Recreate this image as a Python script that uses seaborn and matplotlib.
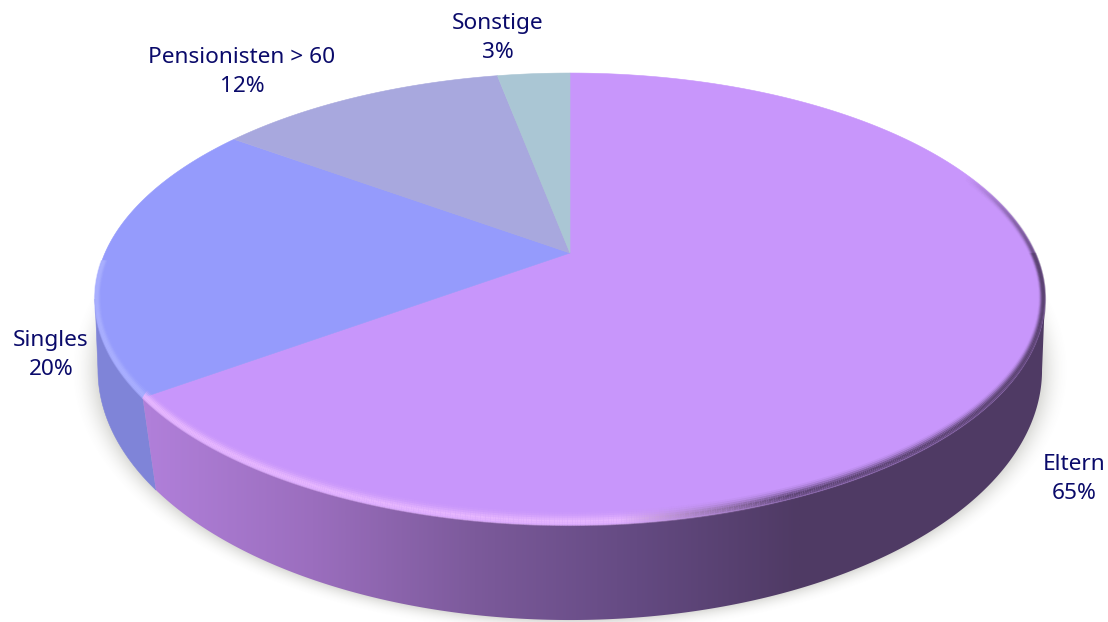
# -*- coding: utf-8 -*-
import numpy as np
import seaborn as sns
import matplotlib
matplotlib.use("Agg")
import matplotlib.pyplot as plt
from matplotlib.patches import Polygon
from matplotlib.collections import LineCollection
from matplotlib.colors import to_rgb

# data
groups = ["Eltern", "Singles", "Pensionisten > 60", "Sonstige"]
shares = [65, 20, 12, 3]
face_colors = ["#C896FB", "#959BFC", "#A8A8DE", "#AAC6D4"]
wall_shades = ["#B07FD9", "#9B6EBE", "#7C5A9B", "#644A82", "#4F3A64"]
singles_wall = "#7F84D8"
text_color = "#0A0A6A"

W, H = 1108, 622
label_xy = [(1074, 479), (51, 355), (242, 72), (498, 38)]

sns.set_theme(style="white")
plt.rcParams["font.family"] = ["Noto Sans", "DejaVu Sans"]


def project(phi, r=1.0, cy=253.0, a=465.0, b=216.6, k=0.2035, cx=570.0):
    # unit circle -> perspective view of the disc, in pixels
    x = r * np.cos(phi)
    y = r * np.sin(phi)
    w = 1 + k * y
    return cx + a * x / w, cy - b * y / w


def project_bottom(phi):
    return project(phi, cy=332.5, a=466.7, b=244.4, k=0.15)


def wall_poly(start, stop, k_top=0.2035, k_bot=0.15, left=False):
    # side wall between two rim angles (radians), top rim + bottom rim
    if left:
        top = np.linspace(np.pi + np.arcsin(k_top), stop, 120)
        bot = np.linspace(stop, np.pi + np.arcsin(k_bot), 120)
    else:
        top = np.linspace(start, -np.arcsin(k_top), 300)
        bot = np.linspace(-np.arcsin(k_bot), start, 300)
    return np.vstack([np.column_stack(project(top)), np.column_stack(project_bottom(bot))])


fig = plt.figure(figsize=(W / 100, H / 100), dpi=100)
ax = fig.add_axes([0, 0, 1, 1])

wedges, _ = ax.pie(shares, startangle=90, counterclock=False,
                   colors=sns.color_palette(face_colors), radius=1)

ax.set_aspect("auto")
ax.axis("off")

# soft ground shadow
X, Y = np.meshgrid(np.arange(W) + 0.5, np.arange(H) + 0.5)
q = np.sqrt(((X - 570) / 472) ** 2 + ((Y - 370) / 250) ** 2)
shadow = np.zeros((H, W, 4))
shadow[..., :3] = (0.45, 0.45, 0.40)
shadow[..., 3] = 0.26 * np.clip(1 - (q - 1) / 0.06, 0, 1) ** 2
ax.imshow(shadow, extent=(0, W, H, 0), aspect="auto", zorder=0)

# side wall
edge = np.radians(wedges[0].theta1)
ax.add_patch(Polygon(wall_poly(None, edge + 2 * np.pi, left=True), closed=True,
                     fc=singles_wall, ec=singles_wall, lw=0.4, zorder=1))
wall_clip = Polygon(wall_poly(edge, None), closed=True, fc="none", ec="none",
                    transform=ax.transData)
ax.add_patch(wall_clip)
wall_cmap = sns.blend_palette(wall_shades, as_cmap=True)
# gradient left to right, flat colour outside of it
grad = np.linspace(0, 1, 256).reshape(1, -1)
wall_img = ax.imshow(grad, extent=(150, 800, H, 0), cmap=wall_cmap, aspect="auto", zorder=1)
wall_img.set_clip_path(wall_clip)
light_img = ax.imshow(np.zeros((1, 2)), extent=(130, 150, H, 0), cmap=wall_cmap, vmin=0, vmax=1,
                      aspect="auto", zorder=1)
light_img.set_clip_path(wall_clip)
dark_img = ax.imshow(np.ones((1, 2)), extent=(800, W, H, 0), cmap=wall_cmap, vmin=0, vmax=1,
                     aspect="auto", zorder=1)
dark_img.set_clip_path(wall_clip)
ax.set_xlim(0, W)
ax.set_ylim(H, 0)

# top face: take the pie wedges and put them in perspective
for wedge, col in zip(wedges, face_colors):
    arc = np.radians(np.linspace(wedge.theta1, wedge.theta2, 400))
    ex, ey = project(arc)
    apex = project(0.0, r=0.0)
    wedge.remove()
    ax.add_patch(Polygon(np.vstack([apex, np.column_stack([ex, ey])]), closed=True,
                         fc=col, ec=col, lw=0.4, zorder=2))

# bevel along the rim
phi = np.radians(np.linspace(182, 410, 900))
px, py = project(phi)
mid = (phi[:-1] + phi[1:]) / 2
mx = (px[:-1] + px[1:]) / 2
blue_hl = np.array(to_rgb("#AAB0FF"))
purple_hl = np.array(to_rgb("#E8B8FF"))
dark = np.array(to_rgb("#5A4270"))
t = np.clip((mx - 620) / 170, 0, 1)[:, None]
hl = np.where((mid < edge + 2 * np.pi)[:, None], blue_hl, purple_hl)
seg_col = (1 - t) * hl + t * dark
for d, alpha in zip([0, 2, 4, 6, 8, 10, 12], [0.55, 0.85, 0.95, 0.7, 0.42, 0.2, 0.07]):
    ox = px - 0.45 * d * np.cos(phi)
    oy = py + d * np.sin(phi)
    pts = np.column_stack([ox, oy]).reshape(-1, 1, 2)
    segs = np.concatenate([pts[:-1], pts[1:]], axis=1)
    # the bevel thins out on the far side of the disc
    a = alpha * np.where(np.sin(mid) > 0, np.clip(1 - np.sin(mid) * 2.6, 0.0, 1) * 0.55, 1.0)
    lc = LineCollection(segs, colors=np.column_stack([seg_col, a]), linewidths=1.6,
                        capstyle="butt", zorder=3)
    ax.add_collection(lc)

for name, val, (tx, ty) in zip(groups, shares, label_xy):
    ax.text(tx, ty, name + "\n" + str(val) + "%", ha="center", va="center",
            color=text_color, fontsize=16.3, linespacing=1.5, zorder=5)

fig.savefig("out.png", dpi=100)
